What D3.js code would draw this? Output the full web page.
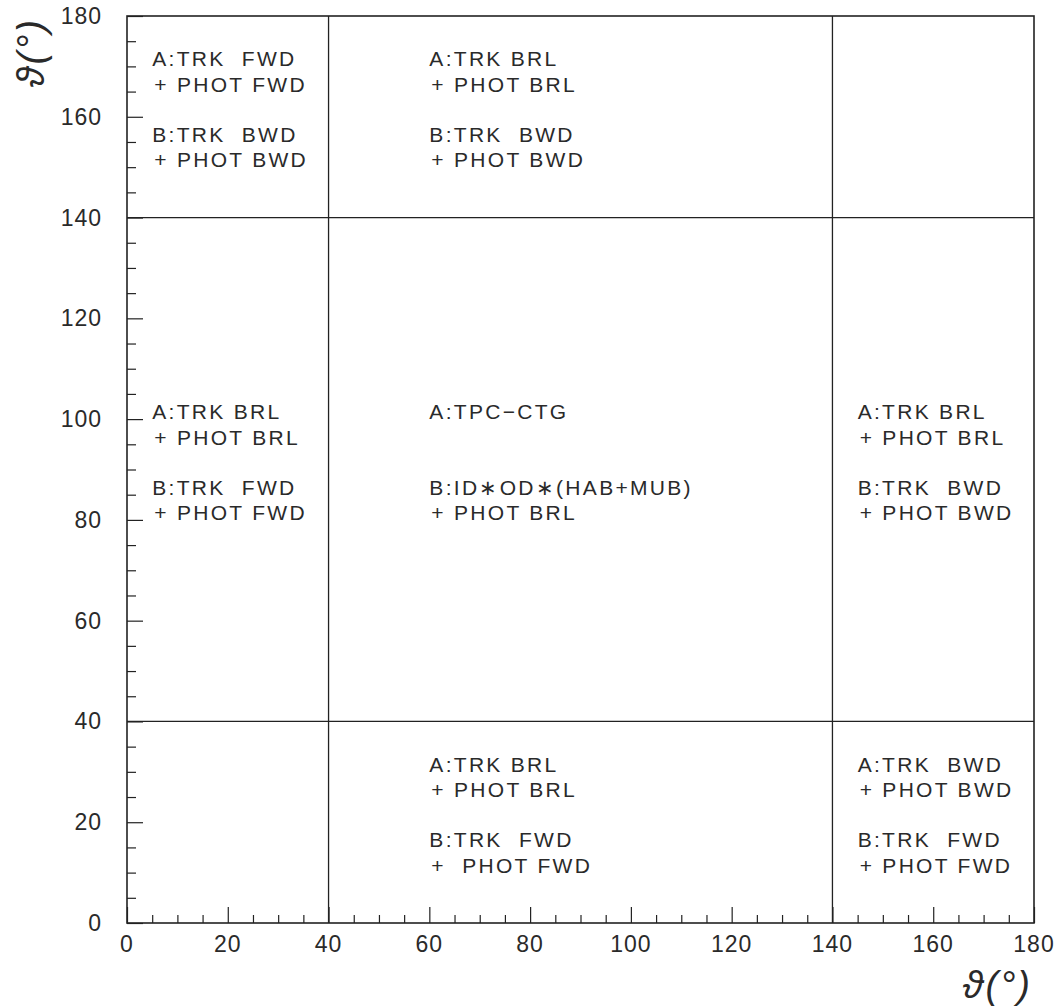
<!DOCTYPE html>
<html>
<head>
<meta charset="utf-8">
<script src="https://cdn.jsdelivr.net/npm/d3@7"></script>
<style>
  body { margin: 0; background: #fff; }
  text { font-family: "Liberation Sans", Arial, sans-serif; fill: #2a2a2a; white-space: pre; }
</style>
</head>
<body>
<svg id="chart" width="1060" height="1008"></svg>
<script>
// axis range (degrees) and the theta cuts that split the plane
const domain = [0, 180];
const xCuts = [40, 140];
const yCuts = [40, 140];
const majorTicks = [0, 20, 40, 60, 80, 100, 120, 140, 160, 180];
const minorStep = 5;
const axisTitle = "\u03d1(\u00b0)";

// cell annotations, anchored in theta coordinates
const labels = [
  {x: 5,   y: 170, lines: ["A:TRK  FWD", "+ PHOT FWD"]},
  {x: 5,   y: 155, lines: ["B:TRK  BWD", "+ PHOT BWD"]},
  {x: 60,  y: 170, lines: ["A:TRK BRL", "+ PHOT BRL"]},
  {x: 60,  y: 155, lines: ["B:TRK  BWD", "+ PHOT BWD"]},
  {x: 5,   y: 100, lines: ["A:TRK BRL", "+ PHOT BRL"]},
  {x: 5,   y: 85,  lines: ["B:TRK  FWD", "+ PHOT FWD"]},
  {x: 60,  y: 100, lines: ["A:TPC\u2212CTG"]},
  {x: 60,  y: 85,  lines: ["B:ID\u2217OD\u2217(HAB+MUB)", "+ PHOT BRL"]},
  {x: 145, y: 100, lines: ["A:TRK BRL", "+ PHOT BRL"]},
  {x: 145, y: 85,  lines: ["B:TRK  BWD", "+ PHOT BWD"]},
  {x: 60,  y: 30,  lines: ["A:TRK BRL", "+ PHOT BRL"]},
  {x: 60,  y: 15,  lines: ["B:TRK  FWD", "+  PHOT FWD"]},
  {x: 145, y: 30,  lines: ["A:TRK  BWD", "+ PHOT BWD"]},
  {x: 145, y: 15,  lines: ["B:TRK  FWD", "+ PHOT FWD"]}
];

const svg = d3.select("#chart");
const x = d3.scaleLinear().domain(domain).range([127, 1034]);
const y = d3.scaleLinear().domain(domain).range([923, 16]);

const minorTicks = d3.range(domain[0], domain[1] + minorStep, minorStep)
  .filter(v => !majorTicks.includes(v));

// ticks: inward, minor short and major long
const xAxis = svg.append("g")
  .attr("transform", `translate(0,${y(0)})`)
  .call(d3.axisTop(x).tickValues(minorTicks).tickSize(8).tickFormat(""));
const xAxisMajor = svg.append("g")
  .attr("transform", `translate(0,${y(0)})`)
  .call(d3.axisTop(x).tickValues(majorTicks).tickSize(16).tickFormat(""));
const yAxis = svg.append("g")
  .attr("transform", `translate(${x(0)},0)`)
  .call(d3.axisRight(y).tickValues(minorTicks).tickSize(9).tickFormat(""));
const yAxisMajor = svg.append("g")
  .attr("transform", `translate(${x(0)},0)`)
  .call(d3.axisRight(y).tickValues(majorTicks).tickSize(16).tickFormat(""));

[xAxis, xAxisMajor, yAxis, yAxisMajor].forEach(g => {
  g.select(".domain").remove();
  g.selectAll(".tick line").attr("stroke", "#222").attr("stroke-width", 1.2);
});

// tick labels
svg.append("g").selectAll("text")
  .data(majorTicks).enter().append("text")
  .attr("x", d => x(d))
  .attr("y", y(0) + 29)
  .attr("text-anchor", "middle")
  .attr("font-size", 23)
  .attr("letter-spacing", 1)
  .text(d => d);

svg.append("g").selectAll("text")
  .data(majorTicks).enter().append("text")
  .attr("x", x(0) - 25)
  .attr("y", d => y(d) + 8)
  .attr("text-anchor", "end")
  .attr("font-size", 23)
  .attr("letter-spacing", 1)
  .text(d => d);

// frame + cut lines
svg.append("rect")
  .attr("x", x(0)).attr("y", y(180))
  .attr("width", x(180) - x(0)).attr("height", y(0) - y(180))
  .attr("fill", "none").attr("stroke", "#222").attr("stroke-width", 1.6);

svg.append("g").selectAll("line")
  .data(xCuts).enter().append("line")
  .attr("x1", d => x(d)).attr("x2", d => x(d))
  .attr("y1", y(0)).attr("y2", y(180))
  .attr("stroke", "#222").attr("stroke-width", 1.3);

svg.append("g").selectAll("line")
  .data(yCuts).enter().append("line")
  .attr("y1", d => y(d)).attr("y2", d => y(d))
  .attr("x1", x(0)).attr("x2", x(180))
  .attr("stroke", "#222").attr("stroke-width", 1.3);

// annotations
const lab = svg.append("g").selectAll("text")
  .data(labels).enter().append("text")
  .attr("font-size", 21)
  .attr("letter-spacing", 2.3)
  .attr("x", d => x(d.x))
  .attr("y", d => y(d.y));
lab.selectAll("tspan")
  .data(d => d.lines.map((t, i) => ({t, i, x: d.x})))
  .enter().append("tspan")
  .attr("x", d => x(d.x) + (d.i === 0 ? 0 : 2))
  .attr("dy", d => d.i === 0 ? 0 : 25.5)
  .text(d => d.t);

// axis titles
svg.append("text")
  .attr("x", x(180) - 2)
  .attr("y", 998)
  .attr("text-anchor", "end")
  .attr("font-size", 38)
  .attr("font-family", "DejaVu Serif")
  .attr("font-style", "italic")
  .attr("letter-spacing", 2)
  .text(axisTitle);

svg.append("text")
  .attr("transform", `translate(44,${y(180) + 2}) rotate(-90)`)
  .attr("text-anchor", "end")
  .attr("font-size", 38)
  .attr("font-family", "DejaVu Serif")
  .attr("font-style", "italic")
  .attr("letter-spacing", 2)
  .text(axisTitle);
</script>
</body>
</html>
